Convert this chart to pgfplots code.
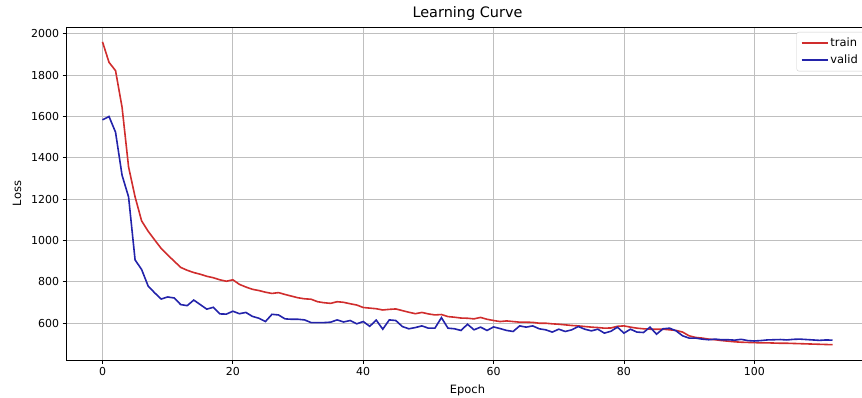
\documentclass[border=0pt]{standalone}
\usepackage{pgfplots}
\pgfplotsset{compat=1.18}
\usepackage{fontspec}
\setmainfont{DejaVu Sans}
\definecolor{trainred}{RGB}{208,45,45}
\definecolor{validblue}{RGB}{35,35,170}
\begin{document}
\begin{tikzpicture}
\useasboundingbox (0,0) rectangle (862bp,398bp);
\clip (0,0) rectangle (862bp,398bp);
\begin{axis}[
  at={(66bp,38bp)}, anchor=south west,
  scale only axis, width=803bp, height=333bp,
  xmin=-5.6, xmax=117.6, ymin=422, ymax=2033,
  xtick={0,20,...,100}, ytick={600,800,...,2000},
  scaled ticks=false,
  /pgf/number format/1000 sep={},
  /pgf/number format/assume math mode=true,
  tick pos=left, tick align=outside,
  major tick length=3.5bp,
  tick style={black, line width=0.8bp},
  axis line style={line width=0.8bp},
  grid=major,
  major grid style={color=black!25, line width=0.8bp},
  ticklabel style={font=\fontsize{11}{13}\selectfont},
  title={Learning Curve},
  title style={font=\fontsize{14.5}{16}\selectfont, at={(0.5,1)}, anchor=south, inner sep=0pt, yshift=0bp},
  xlabel={Epoch}, ylabel={Loss},
  label style={font=\fontsize{11.5}{13}\selectfont},
  xlabel style={yshift=-2.5bp},
  ylabel style={yshift=3bp},
  legend style={at={(1,1)}, anchor=north east, xshift=-5bp, yshift=-5bp,
    draw=black!20, rounded corners=2bp, fill=white,
    font=\fontsize{11.5}{13}\selectfont, row sep=2.5bp, inner sep=4bp},
  legend cell align=left,
  legend image code/.code={\draw[#1] (0bp,0bp) -- (26bp,0bp);},
]
\addplot[color=trainred, line width=1.6bp] coordinates {
(0,1961)(1,1862)(2,1822)(3,1645)(4,1356)(5,1211)(6,1095)(7,1045)(8,1003)(9,962)
(10,930)(11,900)(12,870)(13,856)(14,845)(15,837)(16,827)(17,820)(18,810)(19,803)
(20,810)(21,788)(22,775)(23,764)(24,758)(25,750)(26,744)(27,748)(28,739)(29,731)
(30,723)(31,718)(32,716)(33,704)(34,699)(35,696)(36,704)(37,701)(38,694)(39,688)
(40,676)(41,673)(42,670)(43,664)(44,667)(45,669)(46,661)(47,653)(48,646)(49,652)
(50,645)(51,640)(52,642)(53,632)(54,629)(55,625)(56,624)(57,621)(58,628)(59,619)
(60,613)(61,608)(62,611)(63,608)(64,605)(65,605)(66,604)(67,600)(68,600)(69,597)
(70,595)(71,592)(72,589)(73,587)(74,584)(75,581)(76,579)(77,576)(78,577)(79,585)
(80,587)(81,581)(82,576)(83,573)(84,571)(85,571)(86,571)(87,568)(88,565)(89,557)
(90,539)(91,531)(92,528)(93,523)(94,520)(95,516)(96,513)(97,510)(98,508)(99,507)
(100,506)(101,505)(102,505)(103,504)(104,503)(105,503)(106,502)(107,501)(108,500)(109,499)
(110,498)(111,497)(112,496)
};
\addlegendentry{train}
\addplot[color=validblue, line width=1.6bp] coordinates {
(0,1584)(1,1600)(2,1524)(3,1316)(4,1211)(5,906)(6,860)(7,780)(8,747)(9,717)
(10,727)(11,722)(12,690)(13,685)(14,712)(15,690)(16,668)(17,677)(18,645)(19,644)
(20,658)(21,646)(22,652)(23,633)(24,624)(25,608)(26,643)(27,640)(28,621)(29,619)
(30,619)(31,616)(32,603)(33,603)(34,603)(35,605)(36,616)(37,606)(38,613)(39,597)
(40,608)(41,585)(42,615)(43,571)(44,616)(45,613)(46,584)(47,573)(48,579)(49,587)
(50,576)(51,576)(52,627)(53,576)(54,573)(55,565)(56,595)(57,568)(58,581)(59,565)
(60,582)(61,574)(62,565)(63,560)(64,587)(65,581)(66,587)(67,573)(68,568)(69,557)
(70,571)(71,560)(72,568)(73,584)(74,571)(75,563)(76,571)(77,552)(78,561)(79,581)
(80,552)(81,571)(82,557)(83,555)(84,581)(85,547)(86,573)(87,576)(88,563)(89,539)
(90,528)(91,528)(92,523)(93,520)(94,523)(95,520)(96,520)(97,518)(98,522)(99,516)
(100,514)(101,516)(102,519)(103,520)(104,521)(105,519)(106,522)(107,523)(108,521)(109,519)
(110,517)(111,519)(112,518)
};
\addlegendentry{valid}
\end{axis}
\end{tikzpicture}
\end{document}
